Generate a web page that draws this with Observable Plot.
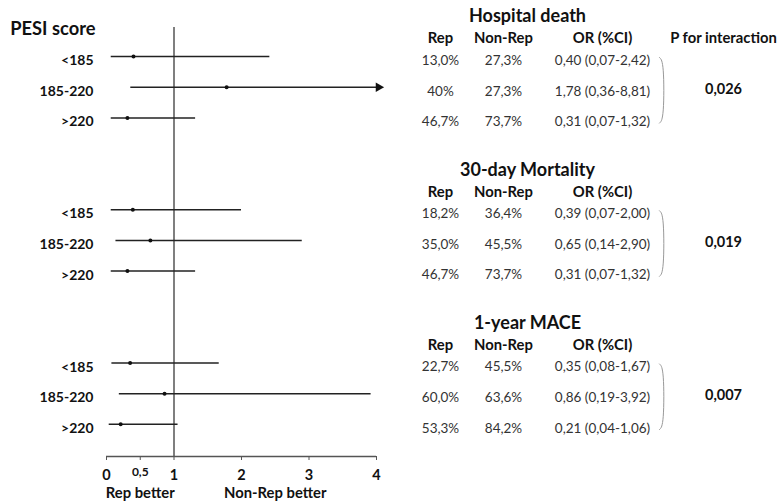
<!DOCTYPE html>
<html><head><meta charset="utf-8">
<script src="https://cdn.jsdelivr.net/npm/d3@7"></script>
<script src="https://cdn.jsdelivr.net/npm/@observablehq/plot@0.6"></script>
<style>
html,body{margin:0;padding:0;background:#fff;}
#chart{position:relative;width:778px;height:504px;font-family:Lato,sans-serif;}
#chart svg{position:absolute;left:0;top:0;}
</style></head><body><div id="chart"></div>
<script>
// ---- data ----
const axisTitle = "PESI score";
const groups = ["<185", "185-220", ">220"];
const outcomes = ["Hospital death", "30-day Mortality", "1-year MACE"];
const columnHeaders = ["Rep", "Non-Rep", "OR (%CI)"];
const pHeader = "P for interaction";
const repPct = [["13,0%", "40%", "46,7%"], ["18,2%", "35,0%", "46,7%"], ["22,7%", "60,0%", "53,3%"]];
const nonRepPct = [["27,3%", "27,3%", "73,7%"], ["36,4%", "45,5%", "73,7%"], ["45,5%", "63,6%", "84,2%"]];
const orValues = [[0.40, 1.78, 0.31], [0.39, 0.65, 0.31], [0.35, 0.86, 0.21]];
const ciLow = [[0.07, 0.36, 0.07], [0.07, 0.14, 0.07], [0.08, 0.19, 0.04]];
const ciHigh = [[2.42, 8.81, 1.32], [2.00, 2.90, 1.32], [1.67, 3.92, 1.06]];
const pInteraction = ["0,026", "0,019", "0,007"];
const xTicks = [0, 1, 2, 3, 4];
const xMinorTicks = [0.5];
const directionLabels = ["Rep better", "Non-Rep better"];

// ---- layout ----
const W = 778, H = 504;
const M = {top: 27, bottom: 48, left: 106, right: 402};
const slotsPerSection = 5;
const yDomain = [-0.95, 13.05];
const xMax = 4;
const cap = xMax + 0.03;
const col = {rep: 440, nonRep: 503, or: 602, p: 723, title: 527, bracketIn: 659, bracketOut: 663.5};
const font = "Lato, sans-serif";
const dec = s => String(s).replace(".", ",");
const fmt2 = v => dec(d3.format(".2f")(v));

const rows = [];
outcomes.forEach((o, s) => groups.forEach((g, r) => rows.push({
  outcome: o, group: g, s, r, slot: s * slotsPerSection + r,
  or: orValues[s][r], lo: ciLow[s][r], hi: ciHigh[s][r],
  rep: repPct[s][r], nonRep: nonRepPct[s][r],
  orText: `${fmt2(orValues[s][r])} (${fmt2(ciLow[s][r])}-${fmt2(ciHigh[s][r])})`
})));

const yScale = {domain: yDomain, reverse: true, axis: null};

const forest = Plot.plot({
  width: W, height: H,
  marginTop: M.top, marginBottom: M.bottom, marginLeft: M.left, marginRight: M.right,
  style: {fontFamily: font, background: "transparent", color: "#111"},
  x: {domain: [0, xMax], axis: null},
  y: yScale,
  marks: [
    Plot.ruleX([1], {stroke: "#555", strokeWidth: 1.5}),
    Plot.ruleY([yDomain[1]], {x1: 0, x2: xMax, stroke: "#555", strokeWidth: 1.5}),
    Plot.axisX({ticks: xTicks, tickSize: 4, tickPadding: 9, fontSize: 14.5, fontWeight: "bold", stroke: "#555", fill: "#111", tickFormat: dec}),
    Plot.axisX({ticks: xMinorTicks, tickSize: 4, tickPadding: 7, fontSize: 12, fontWeight: "bold", stroke: "#555", fill: "#111", tickFormat: dec}),
    Plot.ruleY(rows, {y: "slot", x1: "lo", x2: d => Math.min(d.hi, cap), stroke: "#222", strokeWidth: 1.5}),
    Plot.dot(rows, {x: "or", y: "slot", r: 2, fill: "#111"}),
    Plot.dot(rows.filter(d => d.hi > xMax), {x: () => cap, y: "slot", symbol: "triangle", rotate: 90, r: 3.6, fill: "#111"}),
    Plot.text(rows, {frameAnchor: "left", y: "slot", text: "group", textAnchor: "end", dx: -13, dy: 4, fontSize: 14, fontWeight: "bold", fill: "#111"}),
    Plot.text([axisTitle], {frameAnchor: "top-left", lineAnchor: "middle", textAnchor: "end", dx: -11, dy: 2, fontSize: 18.3, fontWeight: "bold", fill: "#111"}),
    Plot.text(directionLabels, {x: (d, i) => i === 0 ? 0.5 : (1 + xMax) / 2, frameAnchor: "bottom", lineAnchor: "middle", dy: 37, fontSize: 14.8, fontWeight: "bold", fill: "#111"})
  ]
});

const headers = [];
outcomes.forEach((o, s) => {
  const keys = ["rep", "nonRep", "or"];
  columnHeaders.forEach((h, k) => headers.push({text: h, x: col[keys[k]], slot: s * slotsPerSection}));
  if (s === 0) headers.push({text: pHeader, x: col.p, slot: 0});
});

const bracket = [];
outcomes.forEach((o, s) => {
  const t = s * slotsPerSection + 0.03, b = s * slotsPerSection + groups.length - 1 + 0.17;
  bracket.push({s, x: col.bracketIn, y: t}, {s, x: col.bracketOut, y: t + 0.15},
               {s, x: col.bracketOut, y: b - 0.15}, {s, x: col.bracketIn, y: b});
});

const table = Plot.plot({
  width: W, height: H,
  marginTop: M.top, marginBottom: M.bottom, marginLeft: 0, marginRight: 0,
  style: {fontFamily: font, background: "transparent", color: "#111"},
  x: {type: "identity", axis: null},
  y: yScale,
  marks: [
    Plot.text(outcomes, {x: col.title, y: (d, i) => i * slotsPerSection, dy: -40, fontSize: 18, fontWeight: "bold", fill: "#111"}),
    Plot.text(headers, {x: "x", y: "slot", text: "text", dy: -18, fontSize: 14.8, fontWeight: "bold", fill: "#111"}),
    Plot.text(rows, {x: col.rep, y: "slot", text: "rep", dy: 4, fontSize: 13.5, fill: "#333"}),
    Plot.text(rows, {x: col.nonRep, y: "slot", text: "nonRep", dy: 4, fontSize: 13.5, fill: "#333"}),
    Plot.text(rows, {x: col.or, y: "slot", text: "orText", dy: 4, fontSize: 13.5, fill: "#333"}),
    Plot.line(bracket, {x: "x", y: "y", z: "s", curve: "basis", stroke: "#999", strokeWidth: 1}),
    Plot.text(pInteraction, {x: col.p, y: (d, i) => i * slotsPerSection + 1, dy: 2, fontSize: 14.5, fontWeight: "bold", fill: "#111"})
  ]
});

document.getElementById("chart").append(forest, table);
</script></body></html>
